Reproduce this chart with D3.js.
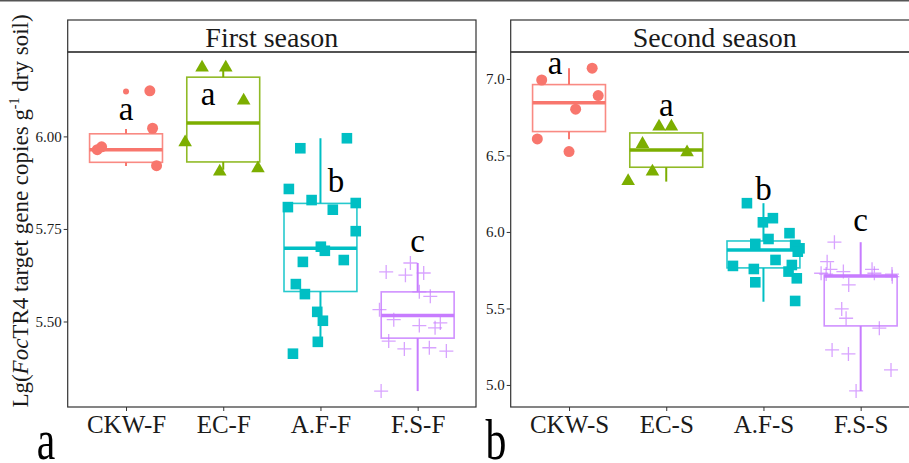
<!DOCTYPE html>
<html>
<head>
<meta charset="utf-8">
<script src="https://cdn.jsdelivr.net/npm/d3@7"></script>
<style>
  body { margin: 0; background: #fff; }
  text { font-family: "Liberation Serif", "Times New Roman", serif; }
</style>
</head>
<body>
<div id="chart"></div>
<script>
// categories
let firstGroups = ["CKW-F", "EC-F", "A.F-F", "F.S-F"];
let secondGroups = ["CKW-S", "EC-S", "A.F-S", "F.S-S"];
let groupColors = ["#F8766D", "#7CAE00", "#00BFC4", "#C77CFF"];
let groupShapes = ["circle", "triangle", "square", "cross"];

// box stats: [lower whisker, q1, median, q3, upper whisker]
let firstBoxes = [
    [5.920, 5.930, 5.964, 6.007, 6.020],
    [5.910, 5.931, 6.036, 6.160, 6.177],
    [5.436, 5.581, 5.698, 5.819, 5.995],
    [5.312, 5.455, 5.516, 5.580, 5.658]
];
let secondBoxes = [
    [6.606, 6.656, 6.845, 6.963, 7.070],
    [6.329, 6.423, 6.536, 6.647, 6.647],
    [5.544, 5.765, 5.882, 5.941, 6.188],
    [4.961, 5.386, 5.712, 5.714, 5.933]
];

// sample values (Lg copies) and the jitter (category units)
let firstValues = [
    [6.123, 6.022, 5.964, 5.972, 5.921],
    [6.186, 6.186, 6.097, 5.984, 5.905, 5.914],
    [5.968, 5.995, 5.858, 5.809, 5.828, 5.802, 5.820, 5.744, 5.702, 5.691, 5.661, 5.666, 5.601, 5.574, 5.526, 5.502, 5.445, 5.413],
    [5.634, 5.658, 5.625, 5.631, 5.580, 5.568, 5.532, 5.505, 5.489, 5.496, 5.483, 5.447, 5.426, 5.429, 5.420, 5.312]
];
let firstJitter = [
    [0.245, 0.273, -0.296, -0.251, 0.314],
    [-0.218, 0.026, 0.21, -0.392, -0.036, 0.357],
    [-0.207, 0.272, -0.325, -0.335, -0.091, 0.127, 0.363, 0.363, 0.004, 0.045, -0.181, 0.24, -0.253, -0.16, -0.033, 0.025, -0.027, -0.283],
    [-0.324, -0.075, -0.126, 0.062, 0.017, 0.13, -0.393, -0.246, 0.017, 0.233, 0.179, -0.298, -0.137, 0.12, 0.295, -0.376]
];
let secondValues = [
    [6.993, 7.070, 6.891, 6.802, 6.608, 6.525],
    [6.688, 6.688, 6.575, 6.521, 6.394, 6.333],
    [6.188, 6.063, 6.090, 5.992, 5.922, 5.954, 5.915, 5.893, 5.871, 5.817, 5.778, 5.758, 5.784, 5.741, 5.697, 5.671, 5.549],
    [5.933, 5.806, 5.756, 5.730, 5.741, 5.756, 5.730, 5.725, 5.725, 5.708, 5.654, 5.497, 5.436, 5.371, 5.229, 5.203, 5.098, 4.961]
];
let secondJitter = [
    [-0.281, 0.238, 0.300, 0.068, -0.326, 0.0],
    [-0.074, 0.053, -0.244, 0.214, -0.142, -0.392],
    [-0.170, -0.006, 0.097, 0.268, -0.084, 0.052, 0.326, 0.371, 0.353, 0.124, -0.314, -0.099, 0.292, 0.258, 0.343, -0.084, 0.326],
    [-0.270, -0.345, -0.311, -0.407, -0.178, 0.117, 0.141, 0.322, -0.355, 0.325, -0.123, -0.195, -0.150, 0.192, -0.294, -0.126, 0.312, -0.047]
];
let firstOutliers = [[6.121], [], [], []];
let secondOutliers = [[], [], [], []];

// significance letters
let firstLetters = ["a", "a", "b", "c"];
let firstLetterY = [6.045, 6.085, 5.851, 5.689];
let firstLetterShift = [0, -0.155, 0.16, 0];
let secondLetters = ["a", "a", "b", "c"];
let secondLetterY = [7.033, 6.758, 6.209, 6.009];
let secondLetterShift = [-0.144, 0, 0, 0];

// axes
let firstTicks = [5.50, 5.75, 6.00];
let secondTicks = [5.0, 5.5, 6.0, 6.5, 7.0];
let firstDomain = [5.269, 6.228];
let secondDomain = [4.856, 7.176];

function configuration(){
    let width = 909, height = 463;
    let top = 52, bottom = 407, stripTop = 20;
    let svg = d3.select("#chart")
                .append("svg")
                .attr("width", width)
                .attr("height", height)
    svg.append("rect")
        .attr("width", width).attr("height", height)
        .attr("fill", "#fff")
    svg.append("line")
        .attr("x1", 0).attr("x2", width)
        .attr("y1", 0.75).attr("y2", 0.75)
        .attr("stroke", "#555").attr("stroke-width", 1.5)
    return { width, height, top, bottom, stripTop, svg };
}

function drawPanel(config, p){
    let { svg, top, bottom, stripTop } = config;
    let x = d3.scalePoint().domain(p.groups).range([p.left, p.right]).padding(0.6);
    let y = d3.scaleLinear().domain(p.domain).range([bottom, top]);
    let step = x.step();
    let g = svg.append("g");

    // strip
    g.append("rect")
        .attr("x", p.left).attr("y", stripTop)
        .attr("width", p.right - p.left).attr("height", top - stripTop)
        .attr("fill", "#fff").attr("stroke", "#333").attr("stroke-width", 1.2)
    g.append("text")
        .attr("x", (p.left + p.right) / 2).attr("y", 46.5)
        .attr("text-anchor", "middle")
        .style("font-size", "28px").style("fill", "#1a1a1a")
        .text(p.title)

    // axes
    let axisY = d3.axisLeft(y).tickValues(p.ticks).tickSize(4).tickPadding(2)
                  .tickFormat(d3.format(p.fmt))
    g.append("g").attr("transform", "translate(" + p.left + ",0)").call(axisY)
        .call(a => a.select(".domain").remove())
        .call(a => a.selectAll("line").attr("stroke", "#333"))
        .selectAll("text").style("font-size", "15px").style("font-family", "Liberation Serif").attr("fill", "#1a1a1a")
    let axisX = d3.axisBottom(x).tickSize(4).tickPadding(4)
    g.append("g").attr("transform", "translate(0," + bottom + ")").call(axisX)
        .call(a => a.select(".domain").remove())
        .call(a => a.selectAll("line").attr("stroke", "#333"))
        .selectAll("text").style("font-size", "25px").style("font-family", "Liberation Serif").attr("fill", "#1a1a1a")

    // boxes
    p.groups.forEach((grp, i) => {
        let b = p.boxes[i];
        let cx = x(grp), half = step * 0.375;
        let col = groupColors[i];
        let box = g.append("g").attr("stroke", col).attr("fill", "none")
        box.append("line").attr("x1", cx).attr("x2", cx).attr("y1", y(b[0])).attr("y2", y(b[1])).attr("stroke-width", 2)
        box.append("line").attr("x1", cx).attr("x2", cx).attr("y1", y(b[3])).attr("y2", y(b[4])).attr("stroke-width", 2)
        box.append("rect")
            .attr("x", cx - half).attr("y", y(b[3]))
            .attr("width", half * 2).attr("height", y(b[1]) - y(b[3]))
            .attr("stroke-width", 1.6).attr("stroke-opacity", 0.85)
        box.append("line").attr("x1", cx - half).attr("x2", cx + half)
            .attr("y1", y(b[2])).attr("y2", y(b[2])).attr("stroke-width", 3.5)
        p.outliers[i].forEach(v => {
            g.append("circle").attr("cx", cx).attr("cy", y(v)).attr("r", 3).attr("fill", col)
        })
    })

    // jittered points
    p.groups.forEach((grp, i) => {
        let col = groupColors[i];
        let shape = groupShapes[i];
        p.values[i].forEach((v, j) => {
            let px = x(grp) + p.jitter[i][j] * step;
            let py = y(v);
            if(shape == "circle"){
                g.append("circle").attr("cx", px).attr("cy", py).attr("r", 5.5).attr("fill", col)
            } else if(shape == "square"){
                g.append("rect").attr("x", px - 5.3).attr("y", py - 5.3)
                    .attr("width", 10.6).attr("height", 10.6).attr("fill", col)
            } else if(shape == "triangle"){
                g.append("path").attr("d", d3.symbol(d3.symbolTriangle, 80)())
                    .attr("transform", "translate(" + [px, py] + ")").attr("fill", col)
            } else {
                g.append("path").attr("d", "M-7,0H7M0,-7V7")
                    .attr("transform", "translate(" + [px, py] + ")")
                    .attr("stroke", col).attr("stroke-width", 1.3).attr("stroke-opacity", 0.7)
            }
        })
    })

    // letters
    p.groups.forEach((grp, i) => {
        g.append("text")
            .attr("x", x(grp) + p.letterShift[i] * step)
            .attr("y", y(p.letterY[i]))
            .attr("text-anchor", "middle")
            .style("font-size", "33px").style("fill", "#000")
            .text(p.letters[i])
    })

    // panel border
    g.append("rect")
        .attr("x", p.left).attr("y", top)
        .attr("width", p.right - p.left).attr("height", bottom - top)
        .attr("fill", "none").attr("stroke", "#333").attr("stroke-width", 1.2)

    // panel tag, narrow and tall as in the figure
    g.append("text")
        .attr("transform", "translate(" + p.tagX + ",459) scale(0.72,1)")
        .attr("text-anchor", "middle")
        .style("font-size", "58px")
        .text(p.tag)
}

let config = configuration();

drawPanel(config, {
    groups: firstGroups, boxes: firstBoxes, values: firstValues, jitter: firstJitter,
    outliers: firstOutliers, letters: firstLetters, letterY: firstLetterY, letterShift: firstLetterShift,
    ticks: firstTicks, domain: firstDomain, fmt: ".2f",
    left: 67.7, right: 476, title: "First season", tag: "a", tagX: 46
})
drawPanel(config, {
    groups: secondGroups, boxes: secondBoxes, values: secondValues, jitter: secondJitter,
    outliers: secondOutliers, letters: secondLetters, letterY: secondLetterY, letterShift: secondLetterShift,
    ticks: secondTicks, domain: secondDomain, fmt: ".1f",
    left: 510.7, right: 919, title: "Second season", tag: "b", tagX: 496
})

// y axis title
let title = config.svg.append("text")
    .attr("transform", "translate(28,211) rotate(-90)")
    .attr("text-anchor", "middle")
    .style("font-size", "23px")
    .style("fill", "#1a1a1a")
title.append("tspan").text("Lg(")
title.append("tspan").style("font-style", "italic").text("Foc")
title.append("tspan").text("TR4 target gene copies g")
title.append("tspan").attr("dy", -9).style("font-size", "14px").text("-1")
title.append("tspan").attr("dy", 9).text(" dry soil)")
</script>
</body>
</html>
